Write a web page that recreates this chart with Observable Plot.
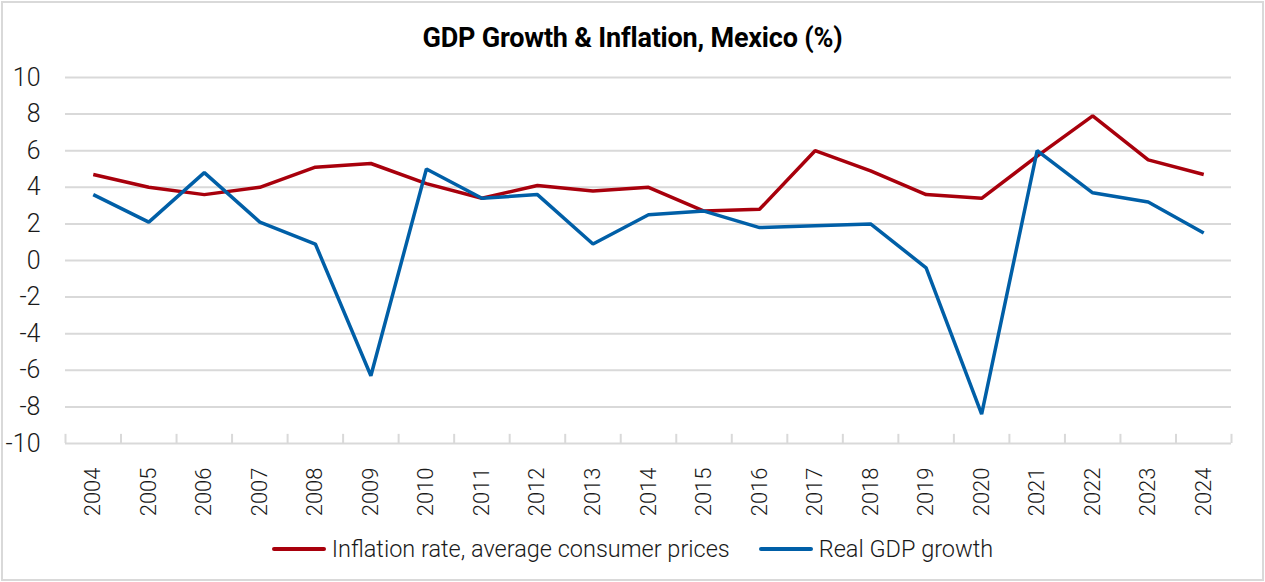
<!DOCTYPE html>
<html>
<head>
<meta charset="utf-8">
<script src="https://cdn.jsdelivr.net/npm/d3@7"></script>
<script src="https://cdn.jsdelivr.net/npm/@observablehq/plot@0.6"></script>
<style>
  html, body { margin: 0; padding: 0; background: #fff; }
  #chart { position: relative; width: 1265px; height: 582px; font-family: Roboto, "Noto Sans", sans-serif; color: #000; overflow: hidden; }
  #frame { position: absolute; left: 1px; top: 1px; width: 1259px; height: 576px; border: 2px solid #d9d9d9; pointer-events: none; }
  #title { height: 60px; line-height: 76px; text-align: center; font-weight: 700; font-size: 27px; letter-spacing: -0.2px; }
  #plot svg { display: block; }
  #legend { display: flex; justify-content: center; align-items: center; gap: 29px; margin-top: 15px; font-size: 23.5px; font-weight: 300; color: #1a1a1a; }
  .item { display: flex; align-items: center; gap: 6px; }
  .swatch { width: 54px; height: 4px; border-radius: 2px; }
</style>
</head>
<body>
<div id="chart">
  <div id="title">GDP Growth &amp; Inflation, Mexico (%)</div>
  <div id="plot"></div>
  <div id="legend"></div>
  <div id="frame"></div>
</div>
<script>
// Annual figures, 2004–2024
const years = [2004, 2005, 2006, 2007, 2008, 2009, 2010, 2011, 2012, 2013, 2014,
               2015, 2016, 2017, 2018, 2019, 2020, 2021, 2022, 2023, 2024];
const inflation = [4.7, 4.0, 3.6, 4.0, 5.1, 5.3, 4.2, 3.4, 4.1, 3.8, 4.0,
                   2.7, 2.8, 6.0, 4.9, 3.6, 3.4, 5.7, 7.9, 5.5, 4.7];
const gdpGrowth = [3.6, 2.1, 4.8, 2.1, 0.9, -6.3, 5.0, 3.4, 3.6, 0.9, 2.5,
                   2.7, 1.8, 1.9, 2.0, -0.4, -8.4, 6.0, 3.7, 3.2, 1.5];
const yTicks = [-10, -8, -6, -4, -2, 0, 2, 4, 6, 8, 10];

const seriesNames = ["Inflation rate, average consumer prices", "Real GDP growth"];
const seriesColors = ["#a8000c", "#005fa7"];

const rows = [
  ...years.map((year, i) => ({year, value: inflation[i], series: seriesNames[0]})),
  ...years.map((year, i) => ({year, value: gdpGrowth[i], series: seriesNames[1]}))
];

// Category boundaries on the year axis (half-way between consecutive years)
const boundaries = [...years.map(y => y - 0.5), years[years.length - 1] + 0.5];
const yMin = yTicks[0];

const plot = Plot.plot({
  width: 1265,
  height: 460,
  marginTop: 17,
  marginBottom: 77,
  marginLeft: 65,
  marginRight: 34,
  style: {fontFamily: "Roboto, sans-serif", background: "transparent"},
  x: {domain: [boundaries[0], boundaries[boundaries.length - 1]], axis: null},
  y: {domain: [yTicks[0], yTicks[yTicks.length - 1]], axis: null},
  color: {domain: seriesNames, range: seriesColors},
  marks: [
    Plot.ruleY(yTicks, {stroke: "#d9d9d9", strokeWidth: 2}),
    Plot.ruleX(boundaries, {x: d => d, y1: yMin, y2: yMin + 0.5, stroke: "#d9d9d9", strokeWidth: 2}),
    Plot.axisY(yTicks, {
      label: null, tickSize: 0, tickPadding: 25, fontSize: 25, fontWeight: 300,
      tickFormat: d => String(d), fill: "#1a1a1a"
    }),
    Plot.axisX(years, {
      label: null, tickSize: 0, tickPadding: 24, tickRotate: -90, fontSize: 22, fontWeight: 300,
      tickFormat: d => String(d), fill: "#1a1a1a"
    }),
    Plot.line(rows, {
      x: "year", y: "value", z: "series", stroke: "series",
      strokeWidth: 3.5, strokeLinejoin: "miter", strokeLinecap: "butt"
    })
  ]
});
document.getElementById("plot").appendChild(plot);

// Legend
const legend = d3.select("#legend");
seriesNames.forEach((name, i) => {
  const item = legend.append("div").attr("class", "item");
  item.append("div").attr("class", "swatch").style("background", seriesColors[i]);
  item.append("span").text(name);
});
</script>
</body>
</html>
